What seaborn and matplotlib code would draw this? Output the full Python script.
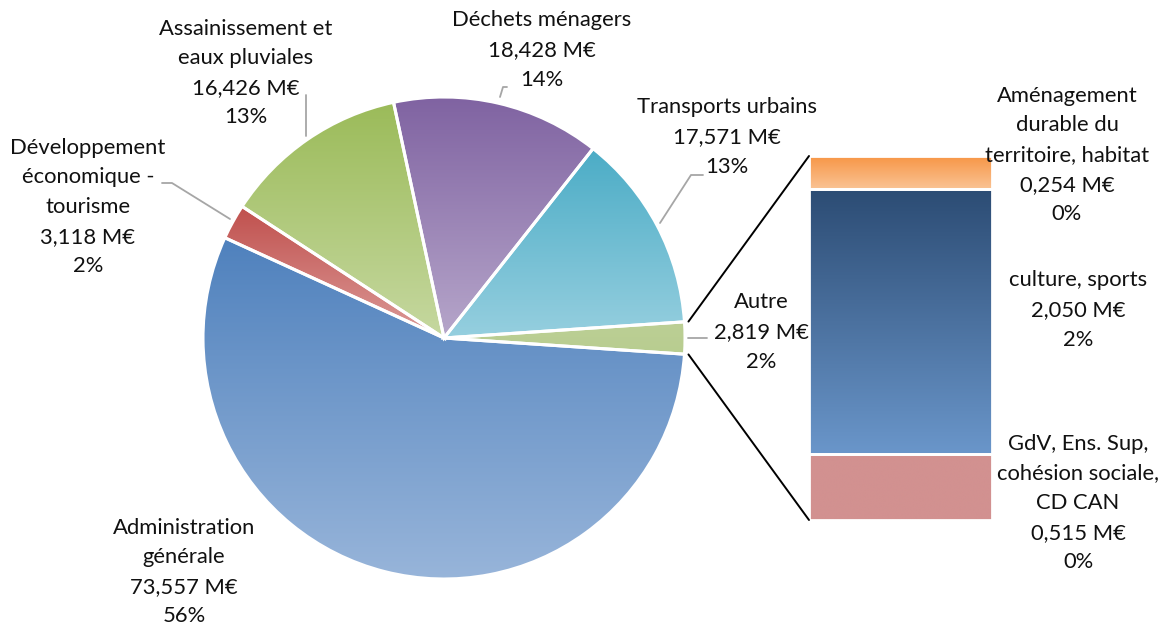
import numpy as np
import matplotlib
matplotlib.use("Agg")
import matplotlib.pyplot as plt
import matplotlib.colors as mcolors
import seaborn as sns

# ─── Data ─────────────────────────────────────────────────────────────────────
# pie slices, in drawing order (counter-clockwise starting from "Autre")
pie_labels = ["Autre", "Transports urbains", "Déchets ménagers",
              "Assainissement et\neaux pluviales",
              "Développement\néconomique -\ntourisme",
              "Administration\ngénérale"]
pie_values = [2.819, 17.571, 18.428, 16.426, 3.118, 73.557]
pie_pcts = ["2%", "13%", "14%", "13%", "2%", "56%"]

# breakdown of "Autre", bottom to top
bar_labels = ["GdV, Ens. Sup,\ncohésion sociale,\nCD CAN",
              "culture, sports",
              "Aménagement\ndurable du\nterritoire, habitat"]
bar_values = [0.515, 2.050, 0.254]
bar_pcts = ["0%", "2%", "0%"]

# ─── Style ────────────────────────────────────────────────────────────────────
PIE_GRAD = [("#bccf95", "#b8cd90"),   # Autre
            ("#4bacc6", "#96cfdf"),   # Transports
            ("#7f62a1", "#b6a6ca"),   # Déchets
            ("#9bbb59", "#c6d8a0"),   # Assainissement
            ("#c0504d", "#dc9b99"),   # Développement
            ("#4f81bd", "#98b5da")]   # Administration
BAR_GRAD = [("#d29190", "#d29190"),
            ("#2c4c74", "#6a96ca"),
            ("#f79646", "#fac394")]

W, H = 1167, 626
CENTER = (444, H - 338)
RADIUS = 241
BAR_BOX = (809, 156, 992, 520)   # left, top, right, bottom in pixels

sns.set_style("white")
plt.rcParams["font.family"] = ["Lato", "DejaVu Sans"]
FS = 15.8
LS = 1.6


def fmt_meur(v):
    return f"{v:.3f}".replace(".", ",") + " M€"


def gradient_fill(ax, patch, top, bottom, zorder=1):
    verts = patch.get_patch_transform().transform(patch.get_path().vertices)
    x0, y0 = verts.min(axis=0)
    x1, y1 = verts.max(axis=0)
    c0 = np.array(mcolors.to_rgb(top))
    c1 = np.array(mcolors.to_rgb(bottom))
    t = np.linspace(0, 1, 256)[:, None]
    img = (c0 * (1 - t) + c1 * t)[:, None, :]
    im = ax.imshow(img, extent=(x0, x1, y0, y1), origin="upper",
                   aspect="auto", interpolation="bilinear", zorder=zorder)
    im.set_clip_path(patch)


fig = plt.figure(figsize=(W / 100, H / 100), dpi=100)
ax = fig.add_axes([0, 0, 1, 1])

start = -360 * pie_values[0] / sum(pie_values) / 2
wedges, _ = ax.pie(pie_values, startangle=start, counterclock=True,
                   center=CENTER, radius=RADIUS,
                   wedgeprops=dict(facecolor="none", edgecolor="white",
                                   linewidth=2.2, zorder=3))
for w, (c0, c1) in zip(wedges, PIE_GRAD):
    gradient_fill(ax, w, c0, c1)

ax.set_xlim(0, W)
ax.set_ylim(0, H)
ax.set_aspect("auto")
ax.axis("off")

# ─── Stacked bar for "Autre" ──────────────────────────────────────────────────
bl, bt, br, bb = BAR_BOX
ax_bar = fig.add_axes([bl / W, (H - bb) / H, (br - bl) / W, (bb - bt) / H])
bottoms = np.concatenate([[0], np.cumsum(bar_values)[:-1]])
bars = ax_bar.bar(0, bar_values, bottom=bottoms, width=1.0,
                  color="none", edgecolor="white", linewidth=2, zorder=3)
for b, (c0, c1) in zip(bars, BAR_GRAD):
    gradient_fill(ax_bar, b, c0, c1)
ax_bar.set_xlim(-0.5, 0.5)
ax_bar.set_ylim(0, sum(bar_values))
ax_bar.axis("off")

# labels sit on top of the bar where they touch it
ax_bar.set_zorder(0)
ax.set_zorder(1)

# connector lines from the "Autre" slice to the bar
autre = wedges[0]
for ang, py in [(autre.theta2, bt), (autre.theta1, bb)]:
    a = np.deg2rad(ang)
    px = CENTER[0] + (RADIUS + 4) * np.cos(a)
    pyy = CENTER[1] + (RADIUS + 4) * np.sin(a)
    ax.plot([px, bl], [pyy, H - py], color="black", lw=1.4, zorder=4)

# ─── Labels ───────────────────────────────────────────────────────────────────
pie_label_pos = [(761, 332), (727, 137), (542, 50), (246, 73), (88, 207), (184, 572)]
for lab, v, p, (x, y) in zip(pie_labels, pie_values, pie_pcts, pie_label_pos):
    ax.text(x, H - y, f"{lab}\n{fmt_meur(v)}\n{p}", ha="center", va="center",
            fontsize=FS, linespacing=LS, color="#111111")

bar_label_pos = [(1078, 503), (1078, 310), (1067, 155)]
for lab, v, p, (x, y) in zip(bar_labels, bar_values, bar_pcts, bar_label_pos):
    ax.text(x, H - y, f"{lab}\n{fmt_meur(v)}\n{p}", ha="center", va="center",
            fontsize=FS, linespacing=LS, color="#111111")

# leader lines
leaders = [
    [(688, 338), (707, 338)],
    [(660, 223), (691, 175), (703, 175)],
    [(500, 97), (503, 87), (507, 87)],
    [(306, 136), (306, 95)],
    [(230, 219), (172, 183), (162, 183)],
]
for pts in leaders:
    xs = [p[0] for p in pts]
    ys = [H - p[1] for p in pts]
    ax.plot(xs, ys, color="#a6a6a6", lw=1.3, zorder=2)

plt.savefig("out.png", dpi=100)
